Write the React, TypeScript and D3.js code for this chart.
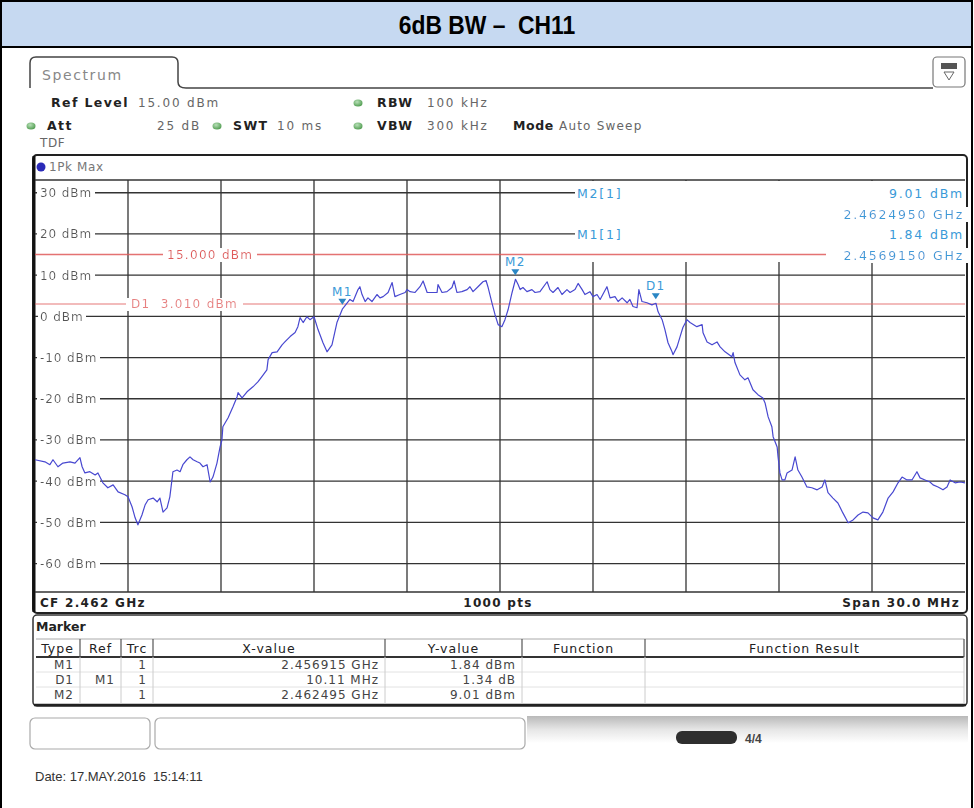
import React from 'react';
import * as d3 from 'd3';

// Spectrum analyzer capture: 6 dB bandwidth, channel 11
const titleText = '6dB BW –  CH11';
const spanMHz = 30;
const yTopDbm = 33.1;
const yBottomDbm = -66.9;
const yTicks = [30, 20, 10, 0, -10, -20, -30, -40, -50, -60];
const xGridMHz = [3, 6, 9, 12, 15, 18, 21, 24, 27];

// trace, offset in MHz from 2.447 GHz
const traceMHz = [
  0.0, 0.32, 0.48, 0.58, 0.74, 0.9, 1.13, 1.29, 1.45, 1.52, 1.61, 1.77, 1.94, 2.03, 2.19, 2.35, 2.52, 2.68, 2.9, 3.0,
  3.13, 3.23, 3.32, 3.45, 3.55, 3.65, 3.81, 3.94, 4.03, 4.13, 4.26, 4.35, 4.45, 4.58, 4.68, 4.77, 4.9, 5.0, 5.1, 5.23,
  5.32, 5.42, 5.55, 5.65, 5.74, 5.87, 5.97, 6.03, 6.06, 6.23, 6.39, 6.52, 6.55, 6.68, 6.84, 7.03, 7.19, 7.32, 7.48, 7.52,
  7.65, 7.81, 7.97, 8.06, 8.23, 8.39, 8.48, 8.55, 8.65, 8.77, 8.87, 9.0, 9.13, 9.29, 9.42, 9.58, 9.74, 9.92, 10.16, 10.26,
  10.42, 10.48, 10.55, 10.65, 10.74, 10.87, 11.03, 11.13, 11.23, 11.39, 11.52, 11.61, 11.77, 11.94, 12.0, 12.1, 12.26, 12.42, 12.52, 12.65,
  12.81, 12.97, 13.0, 13.13, 13.29, 13.45, 13.52, 13.61, 13.77, 13.94, 14.03, 14.13, 14.29, 14.45, 14.55, 14.61, 14.74, 14.84, 14.94, 15.06,
  15.16, 15.26, 15.39, 15.5, 15.58, 15.65, 15.74, 15.87, 16.03, 16.13, 16.29, 16.52, 16.61, 16.71, 16.87, 17.0, 17.16, 17.26, 17.42, 17.52,
  17.65, 17.74, 17.9, 18.0, 18.13, 18.23, 18.45, 18.55, 18.71, 18.81, 18.94, 19.1, 19.19, 19.29, 19.42, 19.48, 19.58, 19.74, 19.9, 20.03,
  20.1, 20.23, 20.32, 20.42, 20.55, 20.58, 20.71, 20.81, 20.9, 21.03, 21.13, 21.35, 21.52, 21.55, 21.68, 21.84, 22.0, 22.1, 22.26, 22.48,
  22.52, 22.58, 22.74, 22.9, 23.0, 23.16, 23.32, 23.48, 23.55, 23.65, 23.77, 23.81, 23.94, 23.97, 24.03, 24.1, 24.19, 24.26, 24.42, 24.52,
  24.61, 24.74, 24.9, 25.06, 25.23, 25.39, 25.48, 25.58, 25.74, 25.9, 26.06, 26.23, 26.39, 26.55, 26.71, 26.87, 27.03, 27.19, 27.35, 27.52,
  27.68, 27.84, 27.97, 28.13, 28.29, 28.45, 28.55, 28.71, 28.87, 28.97, 29.13, 29.29, 29.42, 29.52, 29.68, 29.84, 30.0,
];
const traceDbm = [
  -34.8, -35.3, -36.0, -34.8, -36.5, -35.6, -35.3, -35.6, -34.3, -36.5, -38.0, -37.7, -38.5, -38.0, -40.4, -41.6, -40.9, -42.6, -43.3, -43.8,
  -46.2, -48.9, -50.6, -48.2, -45.8, -44.5, -44.1, -45.0, -44.1, -47.5, -46.5, -43.8, -37.7, -37.3, -37.7, -36.0, -34.8, -34.1, -34.8, -35.3,
  -35.6, -36.5, -36.0, -40.2, -39.0, -35.6, -31.7, -30.0, -26.8, -24.6, -21.9, -19.5, -18.5, -19.8, -18.3, -17.1, -15.9, -14.6, -13.0, -10.5,
  -8.8, -8.6, -6.9, -6.2, -4.9, -3.9, -2.5, -0.3, -1.5, -0.1, -0.8, -0.1, -3.2, -6.4, -8.6, -6.9, -1.5, 1.84, 4.1, 3.6,
  6.5, 7.2, 5.3, 3.6, 4.5, 3.6, 5.3, 4.5, 4.8, 5.8, 8.2, 4.8, 5.3, 5.8, 6.5, 6.0, 5.8, 7.2, 8.6, 5.8,
  5.8, 5.8, 7.7, 5.8, 6.0, 7.0, 8.6, 5.8, 6.0, 6.5, 7.2, 6.0, 7.2, 8.4, 8.7, 7.2, 3.3, 0.4, -2.0, -2.5,
  -0.8, 1.6, 5.8, 9.01, 7.8, 6.5, 7.0, 6.0, 6.5, 5.8, 6.0, 8.4, 6.5, 5.8, 7.0, 5.3, 6.5, 5.8, 6.5, 8.0,
  6.5, 5.3, 6.0, 4.8, 5.3, 4.1, 7.2, 4.5, 4.8, 3.6, 4.5, 3.3, 4.1, 2.4, 2.1, 6.5, 3.6, 3.3, 2.8, 3.18,
  1.1, -0.8, -3.2, -6.4, -8.6, -9.3, -7.4, -4.9, -2.7, -0.8, -1.5, -2.5, -2.0, -4.0, -6.2, -6.9, -6.2, -7.4, -8.6, -9.8,
  -8.8, -11.2, -14.2, -15.4, -14.9, -17.8, -19.0, -19.8, -21.0, -24.4, -26.8, -29.2, -31.7, -34.1, -38.0, -39.7, -39.7, -38.0, -37.3, -34.1,
  -37.3, -39.0, -41.4, -41.6, -42.1, -41.4, -39.7, -42.8, -44.1, -45.3, -47.7, -50.1, -49.4, -48.2, -47.5, -47.7, -48.9, -49.4, -47.5, -44.1,
  -42.6, -40.4, -39.0, -39.7, -39.7, -37.7, -39.2, -39.7, -40.2, -40.9, -41.4, -42.1, -41.4, -39.7, -40.4, -40.2, -40.4,
];

// display lines
const refLineDbm = [15, 3.01];
const refLineLabels = ['15.000 dBm', 'D1  3.010 dBm'];

// markers on the trace
const markerNames = ['M1', 'M2', 'D1'];
const markerMHz = [9.915, 15.495, 20.025];
const markerDbm = [1.84, 9.01, 3.18];

// marker readout, top right
const readoutNames = ['M2[1]', 'M1[1]'];
const readoutLevel = ['9.01 dBm', '1.84 dBm'];
const readoutFreq = ['2.4624950 GHz', '2.4569150 GHz'];

// marker table
const tableHeaders = ['Type', 'Ref', 'Trc', 'X-value', 'Y-value', 'Function', 'Function Result'];
const tableType = ['M1', 'D1', 'M2'];
const tableRef = ['', 'M1', ''];
const tableTrc = ['1', '1', '1'];
const tableX = ['2.456915 GHz', '10.11 MHz', '2.462495 GHz'];
const tableY = ['1.84 dBm', '1.34 dB', '9.01 dBm'];

const rs = '"DejaVu Sans", Verdana, sans-serif';
const arial = '"Liberation Sans", Arial, sans-serif';
const markerBlue = '#3a9ad8';
const traceBlue = '#4848d0';
const red = '#e05a5a';

export default function App() {
  const W = 974;
  const H = 808;
  const plot = { left: 35, right: 965, top: 180, bottom: 592 };

  const x = d3.scaleLinear().domain([0, spanMHz]).range([plot.left, plot.right]);
  const y = d3.scaleLinear().domain([yBottomDbm, yTopDbm]).range([plot.bottom, plot.top]);
  const line = d3.line<number>().x((_, i) => x(traceMHz[i])).y(d => y(d));

  const rsText = { fontFamily: rs, fontSize: 12, letterSpacing: 1.3 };
  const boldLbl = { fontWeight: 'bold', fill: '#222', fontSize: 12.5, letterSpacing: 1.4 };
  const valLbl = { fill: '#666', letterSpacing: 1.8 };

  // table columns
  const colEdges = [35, 80, 121, 153, 385, 522, 645, 964];
  const rowY = [669, 684, 699];
  const cells = [tableType, tableRef, tableTrc, tableX, tableY];

  return (
    <svg width={W} height={H} style={{ position: 'absolute', left: 0, top: 0, display: 'block', background: '#fff' }}>
      <defs>
        <linearGradient id="statusGrad" x1="0" y1="0" x2="0" y2="1">
          <stop offset="0" stopColor="#b9b9b9" />
          <stop offset="0.5" stopColor="#e6e6e6" />
          <stop offset="1" stopColor="#ffffff" />
        </linearGradient>
        <radialGradient id="greenDot" cx="0.4" cy="0.35" r="0.7">
          <stop offset="0" stopColor="#b8e0b8" />
          <stop offset="1" stopColor="#4c9a4c" />
        </radialGradient>
        <filter id="textBg" x="-0.04" y="0.05" width="1.08" height="0.9">
          <feFlood floodColor="#fff" />
          <feMerge>
            <feMergeNode />
            <feMergeNode in="SourceGraphic" />
          </feMerge>
        </filter>
      </defs>

      {/* page frame + title */}
      <rect x={1} y={1} width={971} height={H + 10} fill="#fff" stroke="#000" strokeWidth={2} />
      <rect x={1} y={1} width={971} height={46} fill="#c6d9f1" stroke="#000" strokeWidth={2} />
      <text
        transform="translate(487,34) scale(0.88,1)"
        textAnchor="middle"
        fontFamily={arial}
        fontWeight="bold"
        fontSize={26}
        style={{ whiteSpace: 'pre' }}
      >
        {titleText}
      </text>

      {/* tab */}
      <path d="M30,88 L30,63 Q30,57 36,57 L172,57 Q178,57 178,63 L178,82 Q178,88 186,88 L933,88" fill="none" stroke="#444" strokeWidth={1.5} />
      <text x={42} y={80} fontFamily={rs} fontSize={14} fill="#888" letterSpacing={1.6}>Spectrum</text>
      <rect x={933} y={57} width={32} height={30} rx={4} fill="#fff" stroke="#777" strokeWidth={1.2} />
      <rect x={941} y={63} width={16} height={6} fill="#555" />
      <path d="M944,72 L954,72 L949,80 Z" fill="none" stroke="#666" strokeWidth={1} />

      {/* setting rows */}
      <g {...rsText}>
        <text x={51} y={107} {...boldLbl}>Ref Level</text>
        <text x={138} y={107} {...valLbl}>15.00 dBm</text>
        <ellipse cx={358} cy={103} rx={4.5} ry={3.5} fill="url(#greenDot)" />
        <text x={377} y={107} {...boldLbl}>RBW</text>
        <text x={427} y={107} {...valLbl}>100 kHz</text>

        <ellipse cx={31} cy={126} rx={4.5} ry={3.5} fill="url(#greenDot)" />
        <text x={47} y={130} {...boldLbl}>Att</text>
        <text x={201} y={130} textAnchor="end" {...valLbl}>25 dB</text>
        <ellipse cx={217} cy={126} rx={4.5} ry={3.5} fill="url(#greenDot)" />
        <text x={233} y={130} {...boldLbl}>SWT</text>
        <text x={277} y={130} {...valLbl}>10 ms</text>
        <ellipse cx={358} cy={126} rx={4.5} ry={3.5} fill="url(#greenDot)" />
        <text x={377} y={130} {...boldLbl}>VBW</text>
        <text x={427} y={130} {...valLbl}>300 kHz</text>
        <text x={513} y={130} {...boldLbl} letterSpacing={0.6}>Mode</text>
        <text x={559} y={130} {...valLbl} letterSpacing={1.2}>Auto Sweep</text>

        <text x={40} y={147} fill="#666" letterSpacing={0.6}>TDF</text>
      </g>

      {/* plot panel */}
      <rect x={33} y={155} width={934} height={458} rx={4} fill="#fff" stroke="#222" strokeWidth={2} />
      <line x1={34} x2={34} y1={156} y2={612} stroke="#111" strokeWidth={3} />
      <circle cx={41} cy={167} r={4.5} fill="#2a2ab8" />
      <text x={49} y={171} {...rsText} fill="#777" letterSpacing={0.6}>1Pk Max</text>

      {/* grid */}
      <g stroke="#333" strokeWidth={1.3}>
        {xGridMHz.map(m => (
          <line key={m} x1={x(m)} x2={x(m)} y1={plot.top} y2={plot.bottom} />
        ))}
        <line x1={plot.left} x2={plot.right} y1={plot.top} y2={plot.top} strokeWidth={1.5} />
        <line x1={plot.left} x2={plot.right} y1={plot.bottom} y2={plot.bottom} strokeWidth={1.5} />
      </g>
      {/* readout area hides the grid */}
      <rect x={576} y={181} width={388} height={81} fill="#fff" />
      <g stroke="#333" strokeWidth={1.3}>
        {yTicks.map(t => (
          <line key={t} x1={plot.left} x2={t >= 20 ? 575 : plot.right} y1={y(t)} y2={y(t)} />
        ))}
      </g>
      <g {...rsText} fill="#555" letterSpacing={0.9}>
        {yTicks.map(t => (
          <text key={t} x={40} y={y(t) + 4.5} filter="url(#textBg)">{`${t} dBm`}</text>
        ))}
      </g>

      {/* display lines */}
      <line x1={plot.left} x2={826} y1={y(refLineDbm[0])} y2={y(refLineDbm[0])} stroke={red} strokeWidth={1.4} opacity={0.85} />
      <line x1={plot.left} x2={plot.right} y1={y(refLineDbm[1])} y2={y(refLineDbm[1])} stroke={red} strokeWidth={1.4} opacity={0.55} />
      <g {...rsText}>
        <text x={167} y={y(refLineDbm[0]) + 4.5} fill={red} filter="url(#textBg)" style={{ whiteSpace: 'pre' }}>{refLineLabels[0]}</text>
        <text x={131} y={y(refLineDbm[1]) + 4.5} fill="#e88080" filter="url(#textBg)" style={{ whiteSpace: 'pre' }}>{refLineLabels[1]}</text>
      </g>

      {/* trace */}
      <path d={line(traceDbm) ?? ''} fill="none" stroke={traceBlue} strokeWidth={1.2} strokeLinejoin="round" />

      {/* markers */}
      {markerNames.map((n, i) => {
        const mx = x(markerMHz[i]);
        const my = y(markerDbm[i]) - 4;
        return (
          <g key={n}>
            <path d={`M${mx - 4},${my - 6}L${mx + 4},${my - 6}L${mx},${my}Z`} fill="#2a86c4" />
            <text x={mx} y={my - 9} textAnchor="middle" {...rsText} fill={markerBlue}>{n}</text>
          </g>
        );
      })}

      {/* marker readout */}
      <g {...rsText} fill={markerBlue} fontSize={12.5} letterSpacing={1.8}>
        {readoutNames.map((n, i) => (
          <g key={n}>
            <text x={577} y={y(yTicks[i]) + 5}>{n}</text>
            <text x={964} y={y(yTicks[i]) + 5} textAnchor="end">{readoutLevel[i]}</text>
            <text x={964} y={y(yTicks[i]) + 26} textAnchor="end" filter="url(#textBg)">{readoutFreq[i]}</text>
          </g>
        ))}
      </g>

      {/* footer */}
      <g {...rsText} fontWeight="bold" fill="#222" letterSpacing={1.3}>
        <text x={40} y={607}>CF 2.462 GHz</text>
        <text x={498} y={607} textAnchor="middle">1000 pts</text>
        <text x={960} y={607} textAnchor="end">Span 30.0 MHz</text>
      </g>

      {/* marker table */}
      <rect x={33} y={615} width={934} height={91} rx={4} fill="#fff" stroke="#333" strokeWidth={1.5} />
      <line x1={34} x2={966} y1={705} y2={705} stroke="#222" strokeWidth={2.5} />
      <text x={36} y={631} fontFamily={rs} fontWeight="bold" fontSize={12.5} fill="#222">Marker</text>
      <line x1={36} x2={964} y1={639} y2={639} stroke="#aaa" strokeWidth={1} />
      <line x1={36} x2={964} y1={657} y2={657} stroke="#333" strokeWidth={2} />
      {[672, 687].map(ly => (
        <line key={ly} x1={36} x2={964} y1={ly} y2={ly} stroke="#e2e2e2" strokeWidth={1} />
      ))}
      {colEdges.slice(1).map(cx => (
        <g key={cx}>
          <line x1={cx} x2={cx} y1={639} y2={657} stroke="#555" strokeWidth={1.2} />
          <line x1={cx} x2={cx} y1={657} y2={704} stroke="#ccc" strokeWidth={1} />
        </g>
      ))}
      <g fontFamily={rs} fontSize={12.5} fill="#222" letterSpacing={1}>
        {tableHeaders.map((h, i) => (
          <text key={h} x={(colEdges[i] + colEdges[i + 1]) / 2} y={653} textAnchor="middle">{h}</text>
        ))}
      </g>
      <g fontFamily={rs} fontSize={12} fill="#444" letterSpacing={1}>
        {cells.map((col, c) =>
          col.map((v, r) => (
            <text key={`${c}-${r}`} x={colEdges[c + 1] - 6} y={rowY[r]} textAnchor="end">{v}</text>
          )),
        )}
      </g>

      {/* status bar */}
      <rect x={30} y={718} width={120} height={31} rx={5} fill="#fff" stroke="#aaa" strokeWidth={1.2} />
      <rect x={155} y={718} width={370} height={31} rx={5} fill="#fff" stroke="#aaa" strokeWidth={1.2} />
      <rect x={527} y={716} width={441} height={27} fill="url(#statusGrad)" />
      <rect x={676} y={731} width={61} height={13} rx={6} fill="#2e2e2e" />
      <text x={745} y={743} fontFamily={arial} fontSize={12} fontWeight="bold" fill="#444">4/4</text>

      {/* date */}
      <text x={35} y={781} fontFamily={arial} fontSize={13} fill="#333" style={{ whiteSpace: 'pre' }}>
        Date: 17.MAY.2016  15:14:11
      </text>
    </svg>
  );
}
